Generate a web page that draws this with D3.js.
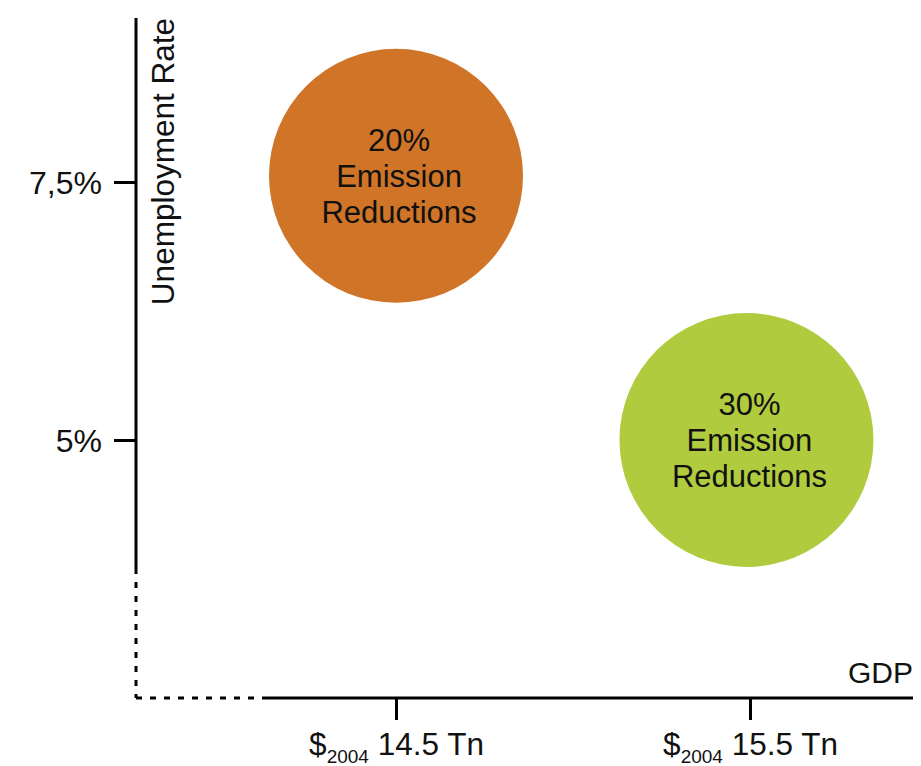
<!DOCTYPE html>
<html>
<head>
<meta charset="utf-8">
<script src="https://cdn.jsdelivr.net/npm/d3@7"></script>
<style>
  body { margin: 0; background: #fff; }
  text { font-family: "Liberation Sans", Arial, sans-serif; fill: #111; }
</style>
</head>
<body>
<div id="chart"></div>
<script>
// dati
const scenarios = ["20%", "30%"];
const gdpTn = [14.5, 15.49];
const unemployment = [7.56, 5.0];
const bubbleColors = ["#d07428", "#b1cb3f"];
const bubbleSize = [1, 1];
const yTicks = [5, 7.5];
const yTickLabels = ["5%", "7,5%"];
const xTicks = [14.5, 15.5];
const xTickLabels = ["14.5 Tn", "15.5 Tn"];

const width = 921;
const height = 766;

// assi: origine spezzata (tratteggio vicino allo zero)
const axisX0 = 136;
const axisY0 = 698;

const x = d3.scaleLinear().domain([14.5, 15.5]).range([396, 750]);
const y = d3.scaleLinear().domain([5, 7.5]).range([440, 182]);
const r = d3.scaleSqrt().domain([0, 1]).range([0, 127]);

const svg = d3.select("#chart").append("svg")
  .attr("width", width).attr("height", height);

// bolle
const bubbles = svg.append("g")
  .selectAll("g")
  .data(scenarios)
  .join("g")
  .attr("transform", (d, i) => `translate(${x(gdpTn[i])},${y(unemployment[i])})`);

bubbles.append("circle")
  .attr("r", (d, i) => r(bubbleSize[i]))
  .attr("fill", (d, i) => bubbleColors[i]);

const label = bubbles.append("text")
  .attr("text-anchor", "middle")
  .attr("transform", "translate(3,0)")
  .style("font-size", "31px");
label.append("tspan").attr("x", 0).attr("y", -25).text((d) => d);
label.append("tspan").attr("x", 0).attr("y", 11).text("Emission");
label.append("tspan").attr("x", 0).attr("y", 47).text("Reductions");

// asse Y
const yAxis = svg.append("g")
  .attr("transform", `translate(${axisX0},0)`)
  .call(d3.axisLeft(y).tickValues(yTicks).tickSize(22).tickPadding(12)
    .tickFormat((d, i) => yTickLabels[yTicks.indexOf(d)]));
yAxis.select(".domain").remove();
yAxis.selectAll(".tick line").attr("stroke", "#000").attr("stroke-width", 3);
yAxis.selectAll(".tick text")
  .style("font-size", "32px").style("font-family", "Liberation Sans, Arial, sans-serif")
  .attr("fill", "#111").attr("dy", "0.36em");

svg.append("line")
  .attr("x1", axisX0).attr("x2", axisX0)
  .attr("y1", 18).attr("y2", 568)
  .attr("stroke", "#000").attr("stroke-width", 3);
svg.append("line")
  .attr("x1", axisX0).attr("x2", axisX0)
  .attr("y1", 568).attr("y2", axisY0)
  .attr("stroke", "#000").attr("stroke-width", 3)
  .attr("stroke-dasharray", "6,8");

// asse X
const xAxis = svg.append("g")
  .attr("transform", `translate(0,${axisY0})`)
  .call(d3.axisBottom(x).tickValues(xTicks).tickSize(22).tickFormat(""));
xAxis.select(".domain").remove();
xAxis.selectAll(".tick line").attr("stroke", "#000").attr("stroke-width", 3);

const xLab = xAxis.selectAll(".tick").append("text")
  .attr("y", 57)
  .attr("text-anchor", "middle")
  .attr("fill", "#111")
  .style("font-size", "31.5px")
  .style("font-family", "Liberation Sans, Arial, sans-serif");
xLab.append("tspan").text("$");
xLab.append("tspan").attr("dy", 8).style("font-size", "19px").text("2004");
xLab.append("tspan").attr("dy", -8).text((d, i) => "\u00a0" + xTickLabels[i]);

svg.append("line")
  .attr("x1", axisX0).attr("x2", 263)
  .attr("y1", axisY0).attr("y2", axisY0)
  .attr("stroke", "#000").attr("stroke-width", 3)
  .attr("stroke-dasharray", "6,8");
svg.append("line")
  .attr("x1", 263).attr("x2", 913)
  .attr("y1", axisY0).attr("y2", axisY0)
  .attr("stroke", "#000").attr("stroke-width", 3);

// titoli degli assi
svg.append("text")
  .attr("transform", "translate(174,18) rotate(-90)")
  .attr("text-anchor", "end")
  .style("font-size", "31.5px")
  .text("Unemployment Rate");

svg.append("text")
  .attr("x", 913).attr("y", 683)
  .attr("text-anchor", "end")
  .style("font-size", "30px")
  .text("GDP");
</script>
</body>
</html>
